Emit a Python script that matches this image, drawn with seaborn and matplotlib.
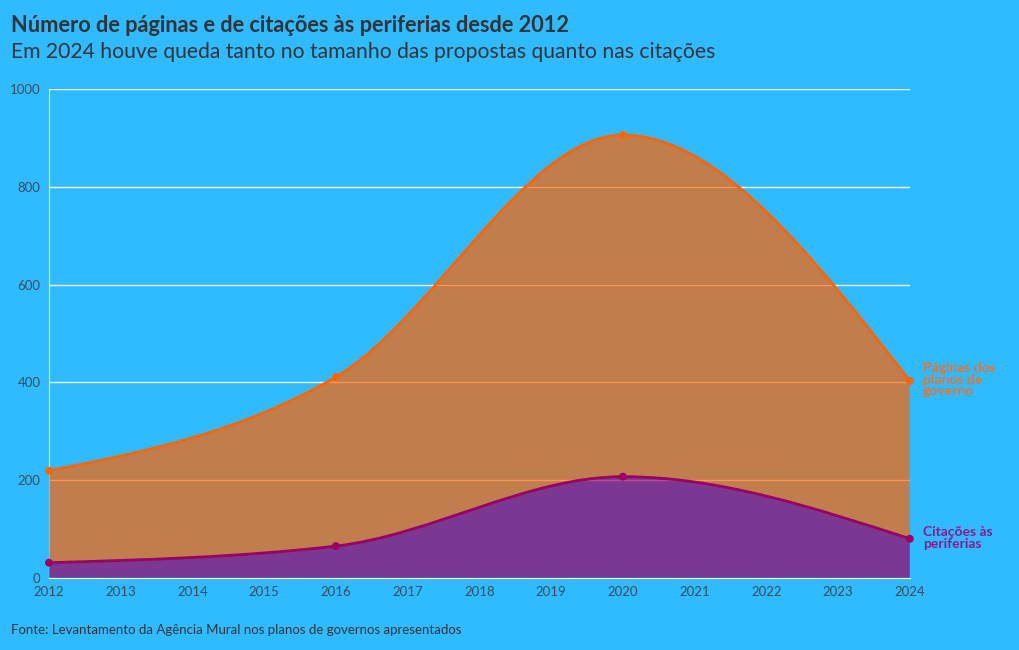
import numpy as np
import pandas as pd
import matplotlib
matplotlib.use("Agg")
import matplotlib.pyplot as plt
import seaborn as sns
from matplotlib.path import Path
from matplotlib.patches import PathPatch

anos = [2012, 2016, 2020, 2024]
paginas = [219, 411, 906, 403]
citacoes = [31, 65, 207, 80]
x_ticks = list(range(2012, 2025))
y_ticks = [0, 200, 400, 600, 800, 1000]

BG = "#2ebbff"
ORANGE = "#ff6400"
PURPLE = "#9b0064"
TXT = "#333333"
TICK = "#3b4d5a"


def monotone_tangents(x, y):
    # same rule as d3.curveMonotoneX
    x = np.asarray(x, float)
    y = np.asarray(y, float)
    n = len(x)
    s = np.diff(y) / np.diff(x)
    h = np.diff(x)
    t = np.zeros(n)
    for i in range(1, n - 1):
        s0, s1 = s[i - 1], s[i]
        p = (s0 * h[i] + s1 * h[i - 1]) / (h[i - 1] + h[i])
        t[i] = (np.sign(s0) + np.sign(s1)) * min(abs(s0), abs(s1), 0.5 * abs(p))
    t[0] = (3 * s[0] - t[1]) / 2
    t[-1] = (3 * s[-1] - t[-2]) / 2
    return t


def bezier_segments(x, y):
    t = monotone_tangents(x, y)
    verts = [(x[0], y[0])]
    for i in range(len(x) - 1):
        dx = (x[i + 1] - x[i]) / 3
        verts += [(x[i] + dx, y[i] + dx * t[i]),
                  (x[i + 1] - dx, y[i + 1] - dx * t[i + 1]),
                  (x[i + 1], y[i + 1])]
    return verts


def curve_path(x, y):
    v = bezier_segments(x, y)
    codes = [Path.MOVETO] + [Path.CURVE4] * (len(v) - 1)
    return Path(v, codes)


def band_path(x, top, bottom):
    up = bezier_segments(x, top)
    if bottom is None:
        down = [(x[-1], 0), (x[0], 0)]
        dcodes = [Path.LINETO, Path.LINETO]
    else:
        down = bezier_segments(x, bottom)[::-1]
        dcodes = [Path.LINETO] + [Path.CURVE4] * (len(down) - 1)
    v = up + down + [up[0]]
    codes = [Path.MOVETO] + [Path.CURVE4] * (len(up) - 1) + dcodes + [Path.CLOSEPOLY]
    return Path(v, codes)


sns.set_style("white", {"axes.facecolor": BG, "figure.facecolor": BG,
                        "axes.edgecolor": "white", "grid.color": "white"})
plt.rcParams["font.family"] = ["Lato", "DejaVu Sans"]

fig = plt.figure(figsize=(10.2, 6.5), dpi=100)
ax = fig.add_axes([0.048, 0.111, 0.844, 0.752])

for yv in y_ticks[1:]:
    ax.axhline(yv, color="white", lw=1, zorder=0.5)

ax.add_patch(PathPatch(band_path(anos, paginas, citacoes), facecolor=ORANGE,
                       edgecolor="none", alpha=0.7, zorder=1))
ax.add_patch(PathPatch(band_path(anos, citacoes, None), facecolor=PURPLE,
                       edgecolor="none", alpha=0.7, zorder=1))
ax.add_patch(PathPatch(curve_path(anos, paginas), facecolor="none",
                       edgecolor=ORANGE, lw=2, zorder=2, clip_on=False))
ax.add_patch(PathPatch(curve_path(anos, citacoes), facecolor="none",
                       edgecolor=PURPLE, lw=2, zorder=2, clip_on=False))

df = pd.DataFrame({"ano": anos * 2, "valor": paginas + citacoes,
                   "serie": ["Páginas"] * 4 + ["Citações"] * 4})
sns.scatterplot(data=df, x="ano", y="valor", hue="serie",
                palette={"Páginas": ORANGE, "Citações": PURPLE},
                s=32, edgecolor="none", legend=False, ax=ax, zorder=3, clip_on=False)

ax.set_xlim(2012, 2024)
ax.set_ylim(0, 1000)
ax.set_xticks(x_ticks)
ax.set_yticks(y_ticks)
ax.set_xlabel("")
ax.set_ylabel("")
ax.tick_params(axis="both", colors="white", labelcolor=TICK, labelsize=9.5,
               length=5, width=1, direction="out", pad=1)
for side in ["top", "right"]:
    ax.spines[side].set_visible(False)
ax.spines["left"].set_color("white")
ax.spines["bottom"].set_color("white")
ax.spines["left"].set_zorder(0.6)

ax.text(2024.18, 441, "Páginas dos\nplanos de\ngoverno", color="#f0702a",
        fontsize=10, fontweight="bold", linespacing=0.95, va="top", ha="left")
ax.text(2024.18, 106, "Citações às\nperiferias", color="#8e1a8c",
        fontsize=10, fontweight="bold", linespacing=0.95, va="top", ha="left")

fig.text(0.011, 0.951, "Número de páginas e de citações às periferias desde 2012",
         fontsize=15.7, fontweight="bold", color=TXT, va="baseline")
fig.text(0.011, 0.910, "Em 2024 houve queda tanto no tamanho das propostas quanto nas citações",
         fontsize=15.2, color=TXT, va="baseline")
fig.text(0.011, 0.024, "Fonte: Levantamento da Agência Mural nos planos de governos apresentados",
         fontsize=9.5, color=TXT, va="baseline")

fig.savefig("out.png", dpi=100, facecolor=BG)
